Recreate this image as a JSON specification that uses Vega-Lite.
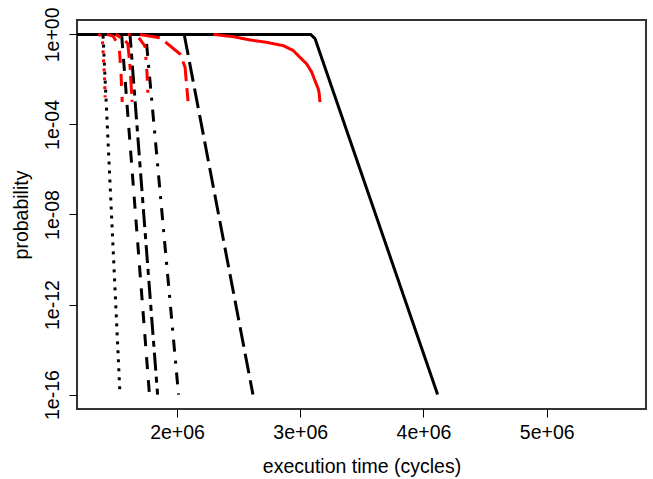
{
  "$schema": "https://vega.github.io/schema/vega-lite/v6.json",
  "width": 569,
  "height": 389,
  "autosize": {"type": "none"},
  "padding": {"left": 77, "top": 20, "right": 7, "bottom": 70},
  "background": "white",
  "config": {
    "view": {"stroke": "#333333", "strokeWidth": 2},
    "font": "Liberation Sans",
    "axis": {"labelFont": "Liberation Sans", "titleFont": "Liberation Sans", "labelColor": "black", "titleColor": "black", "titleFontWeight": "normal", "grid": false, "domain": false, "tickColor": "black", "tickSize": 8, "tickWidth": 1, "labelFontSize": 19.5, "titleFontSize": 19.5}
  },
  "data": {"values": [
    {"series": "b_dot", "i": 0, "x": 1190000, "p": 1},
    {"series": "b_dot", "i": 1, "x": 1399000, "p": 1},
    {"series": "b_dot", "i": 2, "x": 1537000, "p": 1e-16},
    {"series": "b_dash", "i": 0, "x": 1190000, "p": 1},
    {"series": "b_dash", "i": 1, "x": 1550000, "p": 1},
    {"series": "b_dash", "i": 2, "x": 1776000, "p": 1e-16},
    {"series": "b_twodash", "i": 0, "x": 1190000, "p": 1},
    {"series": "b_twodash", "i": 1, "x": 1618000, "p": 1},
    {"series": "b_twodash", "i": 2, "x": 1842000, "p": 1e-16},
    {"series": "b_dotdash", "i": 0, "x": 1190000, "p": 1},
    {"series": "b_dotdash", "i": 1, "x": 1746000, "p": 1},
    {"series": "b_dotdash", "i": 2, "x": 2012000, "p": 1e-16},
    {"series": "b_longdash", "i": 0, "x": 1190000, "p": 1},
    {"series": "b_longdash", "i": 1, "x": 2058000, "p": 1},
    {"series": "b_longdash", "i": 2, "x": 2616000, "p": 1e-16},
    {"series": "b_solid", "i": 0, "x": 1190000, "p": 1},
    {"series": "b_solid", "i": 1, "x": 3085000, "p": 1},
    {"series": "b_solid", "i": 2, "x": 3120000, "p": 0.645},
    {"series": "b_solid", "i": 3, "x": 4115000, "p": 1e-16},
    {"series": "r1", "i": 0, "x": 1360000, "p": 1},
    {"series": "r1", "i": 1, "x": 1385000, "p": 0.85},
    {"series": "r1", "i": 2, "x": 1395000, "p": 0.5},
    {"series": "r1", "i": 3, "x": 1405000, "p": 0.05},
    {"series": "r1", "i": 4, "x": 1412000, "p": 0.01},
    {"series": "r1", "i": 5, "x": 1416000, "p": 0.0016},
    {"series": "r2", "i": 0, "x": 1430000, "p": 1},
    {"series": "r2", "i": 1, "x": 1480000, "p": 0.85},
    {"series": "r2", "i": 2, "x": 1530000, "p": 0.3},
    {"series": "r2", "i": 3, "x": 1545000, "p": 0.02},
    {"series": "r2", "i": 4, "x": 1555000, "p": 0.001},
    {"series": "r3", "i": 0, "x": 1500000, "p": 1},
    {"series": "r3", "i": 1, "x": 1550000, "p": 0.7},
    {"series": "r3", "i": 2, "x": 1600000, "p": 0.4},
    {"series": "r3", "i": 3, "x": 1620000, "p": 0.03},
    {"series": "r3", "i": 4, "x": 1635000, "p": 0.001},
    {"series": "r4", "i": 0, "x": 1600000, "p": 1},
    {"series": "r4", "i": 1, "x": 1683000, "p": 0.8},
    {"series": "r4", "i": 2, "x": 1740000, "p": 0.3},
    {"series": "r4", "i": 3, "x": 1756000, "p": 0.02},
    {"series": "r4", "i": 4, "x": 1765000, "p": 0.0015},
    {"series": "r5", "i": 0, "x": 1700000, "p": 1},
    {"series": "r5", "i": 1, "x": 1862000, "p": 0.7},
    {"series": "r5", "i": 2, "x": 1919000, "p": 0.4},
    {"series": "r5", "i": 3, "x": 2024000, "p": 0.135},
    {"series": "r5", "i": 4, "x": 2065000, "p": 0.035},
    {"series": "r5", "i": 5, "x": 2089000, "p": 0.0011},
    {"series": "r_solid", "i": 0, "x": 2295000, "p": 1},
    {"series": "r_solid", "i": 1, "x": 2457000, "p": 0.79},
    {"series": "r_solid", "i": 2, "x": 2593000, "p": 0.567},
    {"series": "r_solid", "i": 3, "x": 2728000, "p": 0.442},
    {"series": "r_solid", "i": 4, "x": 2863000, "p": 0.316},
    {"series": "r_solid", "i": 5, "x": 2944000, "p": 0.19},
    {"series": "r_solid", "i": 6, "x": 2998000, "p": 0.095},
    {"series": "r_solid", "i": 7, "x": 3052000, "p": 0.049},
    {"series": "r_solid", "i": 8, "x": 3093000, "p": 0.021},
    {"series": "r_solid", "i": 9, "x": 3119000, "p": 0.0089},
    {"series": "r_solid", "i": 10, "x": 3146000, "p": 0.0038},
    {"series": "r_solid", "i": 11, "x": 3154000, "p": 0.0023},
    {"series": "r_solid", "i": 12, "x": 3160000, "p": 0.00098}
  ]},
  "encoding": {
    "x": {"field": "x", "type": "quantitative", "scale": {"domain": [1188000, 5806000], "nice": false, "zero": false},
      "axis": {"values": [2000000, 3000000, 4000000, 5000000], "labelExpr": "format(datum.value/1000000, 'd') + 'e+06'", "title": "execution time (cycles)", "labelPadding": 6, "labelFlush": false, "titleX": 284.5, "titleY": 57, "titleBaseline": "middle", "titleAnchor": "middle"}},
    "y": {"field": "p", "type": "quantitative", "scale": {"type": "log", "domain": [2.29e-17, 4.365], "nice": false},
      "axis": {"values": [1, 0.0001, 1e-8, 1e-12, 1e-16], "labelExpr": "'1e' + (datum.value >= 1 ? '+00' : '-' + (round(-log(datum.value)/LN10) < 10 ? '0' : '') + round(-log(datum.value)/LN10))", "labelAngle": -90, "labelAlign": "center", "labelBaseline": "bottom", "labelPadding": 7, "labelFlush": false, "title": "probability", "titleAngle": -90, "titleX": -56, "titleY": 194.5, "titleBaseline": "middle", "titleAlign": "center"}},
    "order": {"field": "i", "type": "quantitative"}
  },
  "layer": [
    {
      "transform": [{"filter": "indexof(datum.series, 'b_') == 0"}],
      "mark": {"type": "line", "color": "black", "strokeWidth": 3, "strokeCap": "butt"},
      "encoding": {
        "strokeDash": {"field": "series", "type": "nominal", "legend": null,
          "scale": {"domain": ["b_dot", "b_dash", "b_twodash", "b_dotdash", "b_longdash", "b_solid"],
            "range": [[3, 6], [12, 11], [6, 6, 18, 6], [3, 9, 12, 9], [20, 7], [1, 0]]}}
      }
    },
    {
      "transform": [{"filter": "indexof(datum.series, 'r') == 0"}],
      "mark": {"type": "line", "color": "red", "strokeWidth": 3, "strokeCap": "butt"},
      "encoding": {
        "detail": {"field": "series", "type": "nominal"},
        "strokeDash": {"field": "series", "type": "nominal", "legend": null,
          "scale": {"domain": ["r1", "r2", "r3", "r4", "r5", "r_solid"],
            "range": [[9, 6], [9, 6], [9, 6], [9, 6], [9, 6], [1, 0]]}}
      }
    }
  ]
}
